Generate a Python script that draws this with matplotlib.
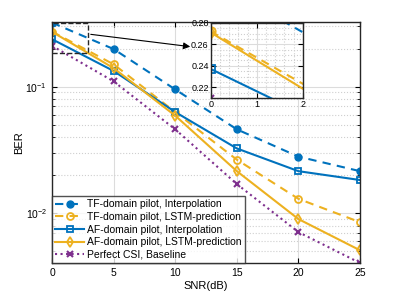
import matplotlib.pyplot as plt
import numpy as np
from matplotlib.patches import Rectangle

# SNR points and BER curves
snr = [0, 5, 10, 15, 20, 25]
tfInterp = [0.320, 0.198, 0.095, 0.046, 0.028, 0.0215]
tfLstm   = [0.272, 0.150, 0.063, 0.0265, 0.013, 0.0085]
afInterp = [0.237, 0.133, 0.063, 0.0325, 0.0215, 0.0183]
afLstm   = [0.271, 0.140, 0.059, 0.0215, 0.0090, 0.0051]
perfect  = [0.210, 0.110, 0.046, 0.017, 0.0071, 0.00405]
labels = ["TF-domain pilot, Interpolation", "TF-domain pilot, LSTM-prediction",
          "AF-domain pilot, Interpolation", "AF-domain pilot, LSTM-prediction",
          "Perfect CSI, Baseline"]

blue   = "#0072BD"
yellow = "#EDB120"
purple = "#7E2F8E"

plt.rcParams['font.family'] = ['Liberation Sans', 'DejaVu Sans']

fig = plt.figure(figsize=(3.97, 2.97), dpi=100)
ax = fig.add_axes([0.131, 0.1145, 0.776, 0.8115])

def drawCurves(a, ms):
    a.plot(snr, tfInterp, color=blue, ls=(0, (4, 3)), lw=1.5, marker='o', ms=ms, label=labels[0])
    a.plot(snr, tfLstm, color=yellow, ls=(0, (4, 3)), lw=1.5, marker='o', ms=ms,
           mfc='none', mew=1.3, label=labels[1])
    a.plot(snr, afInterp, color=blue, lw=1.5, marker='s', ms=ms - 0.5, mfc='none', mew=1.3, label=labels[2])
    a.plot(snr, afLstm, color=yellow, lw=1.5, marker='d', ms=ms, mfc='none', mew=1.3, label=labels[3])
    a.plot(snr, perfect, color=purple, ls=':', lw=1.5, marker='x', ms=ms - 1, mew=1.5, label=labels[4])

drawCurves(ax, 5)
ax.set_yscale('log')
ax.set_xlim(0, 25)
ax.set_ylim(0.00405, 0.324)
ax.set_xticks([0, 5, 10, 15, 20, 25])
ax.grid(True, which='major', color='#dcdcdc', lw=0.8)
ax.grid(True, which='minor', color='#cfcfcf', ls=':', lw=0.8)
ax.tick_params(which='both', direction='in', labelsize=7.5, top=True, right=True)
ax.tick_params(which='minor', length=2)
ax.set_xlabel("SNR(dB)", fontsize=8, labelpad=2)
ax.set_ylabel("BER", fontsize=8, labelpad=1)
for s in ax.spines.values():
    s.set_linewidth(1.0)
    s.set_color('#262626')

leg = ax.legend(loc='lower left', fontsize=7.5, frameon=True, fancybox=False,
                edgecolor='#262626', borderpad=0.3, labelspacing=0.25,
                handlelength=2.8, handletextpad=0.3, borderaxespad=0)
leg.get_frame().set_linewidth(1.0)

# zoom box on main axes
ax.add_patch(Rectangle((0, 0.185), 2.9, 0.135, fill=False, ls='--', lw=1.0, color='#262626', zorder=5))

# inset
axIn = fig.add_axes([0.531, 0.670, 0.232, 0.253])
drawCurves(axIn, 6)
axIn.set_xlim(0, 2)
axIn.set_ylim(0.21, 0.28)
axIn.set_xticks([0, 1, 2])
axIn.set_yticks([0.22, 0.24, 0.26, 0.28])
axIn.set_yticklabels(["0.22", "0.24", "0.26", "0.28"])
axIn.minorticks_on()
axIn.grid(True, which='major', color='#dcdcdc', lw=0.8)
axIn.grid(True, which='minor', color='#cfcfcf', ls=':', lw=0.8)
axIn.tick_params(which='both', direction='in', labelsize=6.5, pad=1.5, top=True, right=True)
axIn.tick_params(which='minor', length=0)
for s in axIn.spines.values():
    s.set_linewidth(1.0)
    s.set_color('#262626')

# arrow from zoom box to inset
ax.annotate("", xy=(193 / 397, 1 - 47 / 297), xycoords='figure fraction',
            xytext=(88 / 397, 1 - 34 / 297), textcoords='figure fraction',
            arrowprops=dict(arrowstyle='-|>', color='black', lw=0.8, mutation_scale=10))

fig.savefig("out.png", dpi=100)
